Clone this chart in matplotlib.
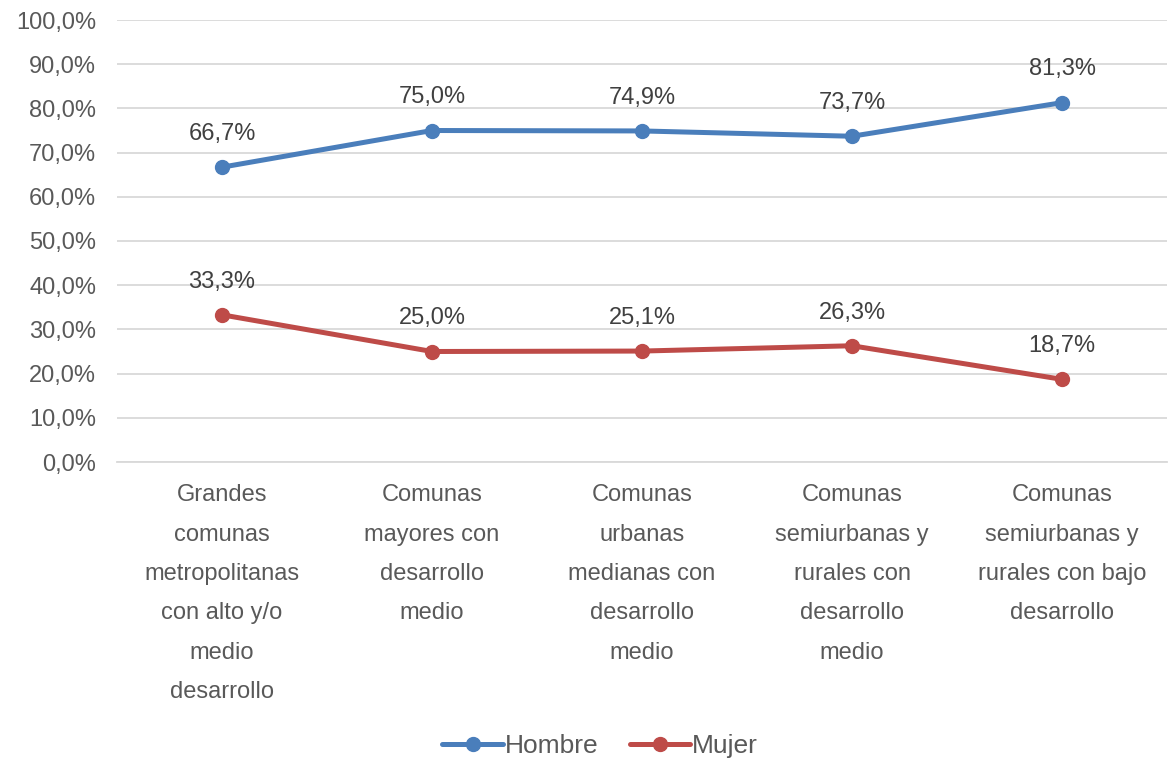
import matplotlib
matplotlib.use("Agg")
import matplotlib.pyplot as plt
from matplotlib.ticker import FuncFormatter

plt.rcParams['font.family'] = ['Liberation Sans Narrow', 'Liberation Sans', 'DejaVu Sans']

categories = [
    "Grandes\ncomunas\nmetropolitanas\ncon alto y/o\nmedio\ndesarrollo",
    "Comunas\nmayores con\ndesarrollo\nmedio",
    "Comunas\nurbanas\nmedianas con\ndesarrollo\nmedio",
    "Comunas\nsemiurbanas y\nrurales con\ndesarrollo\nmedio",
    "Comunas\nsemiurbanas y\nrurales con bajo\ndesarrollo",
]
hombre = [66.7, 75.0, 74.9, 73.7, 81.3]
mujer = [33.3, 25.0, 25.1, 26.3, 18.7]
series_names = ["Hombre", "Mujer"]
colors = ["#4A7EBB", "#BE4B48"]
yticks = [0, 10, 20, 30, 40, 50, 60, 70, 80, 90, 100]

fig = plt.figure(figsize=(11.76, 7.63), dpi=100)
ax = fig.add_axes([117/1176, 1-462/763, 1050/1176, 442/763])

x = list(range(len(categories)))
text_color = "#595959"
fs = 17
for vals, name, c in zip([hombre, mujer], series_names, colors):
    ax.plot(x, vals, color=c, lw=3.6, marker='o', markersize=10, label=name,
            solid_capstyle='round', zorder=3)
    for xi, v in zip(x, vals):
        ax.annotate(f"{v:.1f}%".replace('.', ','), (xi, v), xytext=(0, 16),
                    textcoords='offset points', ha='center', va='bottom',
                    fontsize=fs, color="#404040")

ax.set_xlim(-0.5, len(categories) - 0.5)
ax.set_ylim(0, 100)
ax.set_yticks(yticks)
ax.yaxis.set_major_formatter(FuncFormatter(lambda v, p: f"{v:.1f}%".replace('.', ',')))
ax.set_xticks(x)
ax.set_xticklabels(categories, fontsize=fs, color=text_color, linespacing=2.02)
ax.tick_params(axis='y', labelsize=fs, labelcolor=text_color, length=0, pad=15)
ax.tick_params(axis='x', length=0, pad=16)
ax.grid(axis='y', color="#D9D9D9", lw=1.3)
ax.set_axisbelow(True)
for s in ['top', 'right', 'left']:
    ax.spines[s].set_visible(False)
ax.spines['bottom'].set_color("#D9D9D9")
ax.spines['bottom'].set_linewidth(1.3)

leg = fig.legend(loc='center', bbox_to_anchor=(600/1176, 1-746/763), ncol=2,
                 frameon=False, fontsize=19, handlelength=2.3, handletextpad=0.05,
                 columnspacing=1.2)
for t in leg.get_texts():
    t.set_color(text_color)

fig.savefig("out.png", dpi=100)
